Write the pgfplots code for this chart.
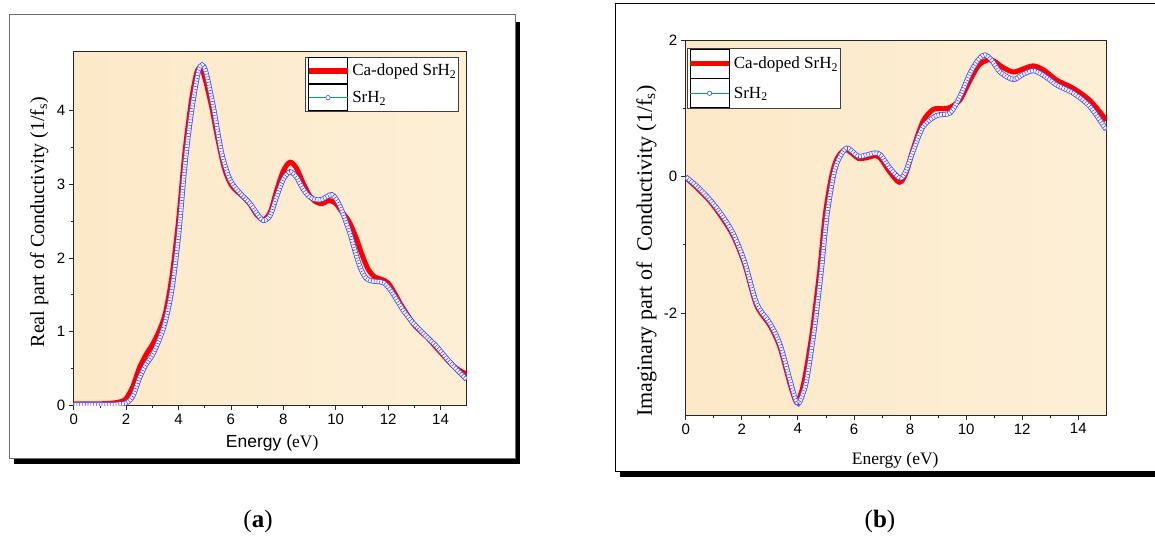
\documentclass[border=0pt]{standalone}
\usepackage{fontspec}
\setmainfont{Liberation Serif}
\newfontfamily\arial{Liberation Sans}
\usepackage{pgfplots}
\pgfplotsset{compat=1.18}
\definecolor{peachA}{RGB}{252,233,200}
\definecolor{peachB}{RGB}{253,239,214}
\definecolor{sgreen}{RGB}{0,170,90}
\definecolor{sblue}{RGB}{70,70,255}
\definecolor{frgray}{RGB}{110,110,110}

\pgfplotstableread{
E V
0 0.02
0.5 0.02
1.0 0.02
1.5 0.03
1.8 0.05
2.0 0.09
2.25 0.25
2.5 0.50
2.75 0.68
3.0 0.82
3.25 1.00
3.5 1.25
3.75 1.75
4.0 2.50
4.25 3.45
4.5 4.15
4.7 4.52
4.85 4.58
5.0 4.45
5.25 4.08
5.5 3.62
5.75 3.22
6.0 3.00
6.25 2.90
6.5 2.82
6.75 2.72
7.0 2.58
7.25 2.52
7.5 2.62
7.75 2.92
8.0 3.18
8.25 3.30
8.5 3.22
8.75 3.02
9.0 2.85
9.25 2.76
9.5 2.74
9.75 2.78
10.0 2.74
10.25 2.62
10.5 2.50
10.75 2.30
11.0 2.05
11.25 1.84
11.5 1.74
11.75 1.71
12.0 1.66
12.25 1.52
12.5 1.36
12.75 1.22
13.0 1.09
13.25 1.00
13.5 0.92
13.75 0.82
14.0 0.72
14.25 0.62
14.5 0.53
14.75 0.47
15.0 0.42
}\realdoped

\pgfplotstableread{
E V
0 0.01
0.5 0.01
1.0 0.01
1.5 0.01
1.8 0.02
2.0 0.03
2.25 0.12
2.5 0.36
2.75 0.55
3.0 0.68
3.25 0.88
3.5 1.14
3.75 1.58
4.0 2.30
4.25 3.28
4.5 4.00
4.75 4.52
4.9 4.62
5.05 4.52
5.33 4.05
5.65 3.42
5.97 3.06
6.35 2.88
6.73 2.74
7.0 2.60
7.24 2.51
7.5 2.58
7.75 2.84
8.0 3.07
8.25 3.17
8.5 3.10
8.75 2.94
9.0 2.83
9.27 2.79
9.5 2.80
9.85 2.86
10.1 2.75
10.3 2.58
10.55 2.33
10.75 2.08
10.95 1.86
11.15 1.73
11.35 1.69
11.6 1.68
11.85 1.66
12.1 1.56
12.35 1.42
12.58 1.29
12.9 1.14
13.22 1.02
13.5 0.92
13.85 0.80
14.2 0.65
14.5 0.53
14.75 0.44
15.0 0.35
}\realpure

\pgfplotstableread{
E V
0 -0.01
0.4 -0.16
0.87 -0.36
1.3 -0.60
1.7 -0.87
2.1 -1.28
2.53 -1.89
3.0 -2.18
3.36 -2.50
3.72 -3.04
3.95 -3.31
4.1 -3.20
4.25 -2.95
4.49 -2.35
4.67 -1.76
4.8 -1.30
4.98 -0.55
5.2 0.0
5.4 0.27
5.68 0.40
5.95 0.34
6.16 0.27
6.45 0.28
6.75 0.31
6.95 0.27
7.28 0.07
7.62 -0.08
7.85 0.05
8.12 0.42
8.47 0.82
8.83 0.99
9.2 1.00
9.43 1.02
9.78 1.13
10.14 1.42
10.45 1.64
10.79 1.72
11.0 1.70
11.3 1.61
11.68 1.54
12.0 1.58
12.4 1.63
12.8 1.56
13.23 1.42
13.82 1.30
14.42 1.12
15.0 0.83
}\imagdoped

\pgfplotstableread{
E V
0 0.0
0.4 -0.14
0.87 -0.34
1.3 -0.57
1.7 -0.84
2.1 -1.25
2.53 -1.86
3.0 -2.15
3.36 -2.46
3.72 -2.99
3.9 -3.25
4.02 -3.33
4.15 -3.22
4.31 -2.99
4.55 -2.35
4.73 -1.76
4.85 -1.32
5.03 -0.59
5.26 0.0
5.44 0.25
5.72 0.42
5.95 0.37
6.16 0.30
6.45 0.32
6.75 0.35
6.95 0.32
7.28 0.13
7.64 -0.02
7.85 0.08
8.12 0.39
8.47 0.74
8.95 0.90
9.43 0.94
9.78 1.18
10.14 1.52
10.45 1.73
10.67 1.79
10.9 1.72
11.21 1.54
11.68 1.43
12.0 1.50
12.4 1.56
12.8 1.48
13.23 1.35
13.82 1.23
14.42 1.03
15.0 0.69
}\imagpure

\pgfplotsset{
  common/.style={
    scale only axis,
    xmin=0, xmax=15,
    xtick={0,2,...,14},
    minor x tick num=1,
    minor y tick num=1,
    tick align=outside,
    tick pos=left,
    major tick length=5pt,
    minor tick length=3pt,
    every tick/.style={black!85, line width=0.8pt},
    axis line style={black!85, line width=0.9pt},
    axis background/.style={left color=peachA, right color=peachB},
    /pgf/number format/assume math mode=true,
    tick label style={font=\arial\fontsize{15}{17}\selectfont},
    legend cell align=left,
    legend style={font=\fontsize{17}{19}\selectfont, draw=black!75, line width=0.8pt,
      inner xsep=0pt, inner ysep=0pt},
  },
  redline/.style={smooth, red, line width=5pt, forget plot},
  blueband/.style={smooth, sblue, line width=5pt, forget plot,
    postaction={draw=white, line width=3.4pt},
    postaction={draw=sblue, line width=3.4pt, dash pattern=on 0.6pt off 2.2pt}},
}

% #1 = half height of each legend row
\newcommand{\mylegend}[1]{%
  \addlegendimage{legend image code/.code={\path (0pt,-#1) rectangle (39pt,#1); \draw[red, line width=5.5pt] (0pt,0pt) -- (39pt,0pt);}}
  \addlegendentry{Ca-doped SrH\textsubscript{2}}
  \addlegendimage{legend image code/.code={\path (0pt,-#1) rectangle (39pt,#1); \draw[sgreen, line width=0.7pt] (0pt,0pt) -- (39pt,0pt); \draw[sblue, line width=0.6pt, fill=white] (19.5pt,0pt) circle (2.2pt);}}
  \addlegendentry{SrH\textsubscript{2}}
}

\begin{document}
\begin{tikzpicture}[x=1pt,y=1pt]
\useasboundingbox (0,0) rectangle (1155,539);
% left frame with shadow
\fill[black] (14,74.7) rectangle (520,517);
\filldraw[fill=white, draw=frgray, line width=1pt] (9,80.5) rectangle (515,524);
% right frame with shadow
\fill[black] (620,62) rectangle (1170,528);
\filldraw[fill=white, draw=black, line width=1pt] (615,68) rectangle (1175,535.7);

\begin{axis}[common,
  at={(73.7pt,133.7pt)}, anchor=south west,
  width=393pt, height=354.3pt,
  ymin=0, ymax=4.81,
  ytick={0,1,2,3,4},
  xlabel={{\arial Energy (}eV)},
  ylabel={Real part of Conductivity (1/f\textsubscript{s})},
  every axis x label/.style={at={(axis description cs:0.505,-0.106)}, anchor=center, font=\fontsize{17.5}{20}\selectfont},
  every axis y label/.style={at={(axis description cs:-0.088,0.517)}, rotate=90, anchor=center, font=\fontsize{20}{22}\selectfont},
  legend style={at={(0.98,0.983)}, anchor=north east},
]
\addplot[redline] table {\realdoped};
\addplot[blueband] table {\realpure};
\mylegend{13pt}
\end{axis}

\begin{axis}[common,
  at={(685.7pt,124pt)}, anchor=south west,
  width=420.6pt, height=374.3pt,
  ymin=-3.5, ymax=2,
  ytick={-2,0,2},
  xlabel={Energy (eV)},
  ylabel={Imaginary part of\ \ Conductivity (1/f\textsubscript{s})},
  every axis x label/.style={at={(axis description cs:0.498,-0.120)}, anchor=center, font=\fontsize{17.5}{20}\selectfont},
  every axis y label/.style={at={(axis description cs:-0.093,0.438)}, rotate=90, anchor=center, font=\fontsize{22}{24}\selectfont},
  legend style={at={(0.003,0.98)}, anchor=north west},
]
\addplot[redline] table {\imagdoped};
\addplot[blueband] table {\imagpure};
\mylegend{14.5pt}
\end{axis}

\node[font=\fontsize{25}{27}\selectfont] at (258,18) {(\textbf{a})};
\node[font=\fontsize{25}{27}\selectfont] at (880,18) {(\textbf{b})};
\end{tikzpicture}
\end{document}
